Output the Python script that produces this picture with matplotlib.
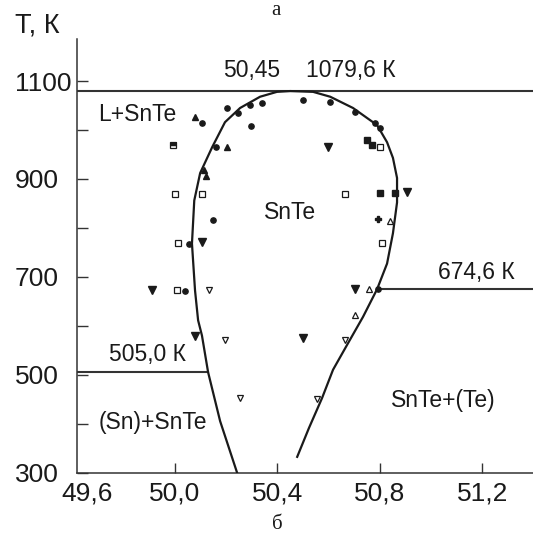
import matplotlib
matplotlib.use("Agg")
import matplotlib.pyplot as plt
from matplotlib.ticker import FixedLocator

plt.rcParams['font.family'] = ['Liberation Sans', 'DejaVu Sans']

INK = '#1a1a1a'

# SnTe homogeneity region boundary (at.% Te, K), left branch -> top -> right branch
boundary_x = [50.242, 50.176, 50.129, 50.105, 50.090, 50.078, 50.066, 50.075,
              50.098, 50.145, 50.195, 50.254, 50.332, 50.398, 50.45, 50.539,
              50.606, 50.695, 50.789, 50.828, 50.851, 50.867, 50.867, 50.851,
              50.828, 50.789, 50.734, 50.672, 50.617, 50.574, 50.523, 50.477]
boundary_T = [300, 405, 505, 580, 611, 672, 768, 856,
              912, 965, 1016, 1045, 1068, 1078, 1079.6, 1078,
              1068, 1045, 1010, 975, 943, 902, 852, 789,
              727, 674.6, 618, 561, 510, 452, 391, 332]

# invariant temperatures, K
t_max = 1079.6
x_max = 50.45
t_sn = 505.0
x_sn = 50.129
t_te = 674.6
x_te = 50.789

# experimental points
fc_x = [50.106, 50.203, 50.246, 50.293, 50.340, 50.298, 50.160, 50.500,
        50.606, 50.703, 50.782, 50.801, 50.148, 50.055, 50.039, 50.793]
fc_T = [1014, 1045, 1035, 1051, 1055, 1008, 965, 1062,
        1057, 1037, 1014, 1004, 816, 768, 670, 676]
fs_x = [50.751, 50.770, 50.801, 50.860]
fs_T = [980, 969, 871, 871]
fup_x = [50.079, 50.203, 50.114, 50.122]
fup_T = [1027, 965, 918, 905]
fdn_x = [50.598, 50.906, 50.106, 49.911, 50.079, 50.703, 50.500]
fdn_T = [965, 873, 772, 672, 580, 676, 574]
os_x = [50.0, 50.106, 50.801, 50.665, 50.012, 50.008, 50.809]
os_T = [870, 870, 965, 870, 770, 674, 770]
hs_x = [49.992]
hs_T = [969]
odn_x = [50.134, 50.196, 50.254, 50.555, 50.665]
odn_T = [672, 570, 453, 451, 570]
oup_x = [50.756, 50.840, 50.703]
oup_T = [676, 815, 621]
pl_x = [50.793]
pl_T = [819]

x_ticks = [50.0, 50.4, 50.8, 51.2]
x_labels = ['50,0', '50,4', '50,8', '51,2']
y_ticks = [300, 500, 700, 900, 1100]
y_minor = [400, 600, 800, 1000]

fig = plt.figure(figsize=(5.33, 5.35), dpi=100)
ax = fig.add_axes([77 / 533, 62.5 / 535, 456 / 533, 433.5 / 535])
ax.set_xlim(49.617, 51.398)
ax.set_ylim(300, 1186)

ax.plot(boundary_x, boundary_T, color=INK, lw=1.6, zorder=3)
ax.plot([49.617, 51.398], [t_max, t_max], color='#333333', lw=1.5, zorder=2)
ax.plot([49.617, x_sn], [t_sn, t_sn], color='#333333', lw=1.5, zorder=2)
ax.plot([x_te, 51.398], [t_te, t_te], color='#333333', lw=1.5, zorder=2)

kw = dict(ls='none', color=INK, zorder=4, clip_on=False)
ax.plot(fc_x, fc_T, marker='o', ms=3.8, **kw)
ax.plot(fs_x, fs_T, marker='s', ms=3.8, **kw)
ax.plot(fup_x, fup_T, marker='^', ms=5.0, **kw)
ax.plot(fdn_x, fdn_T, marker='v', ms=5.2, **kw)
ax.plot(os_x, os_T, marker='s', ms=3.8, mfc='white', mew=0.9, **kw)
ax.plot(hs_x, hs_T, marker='s', ms=4.0, fillstyle='top', mew=0.9, **kw)
ax.plot(odn_x, odn_T, marker='v', ms=5.0, mfc='white', mew=0.9, **kw)
ax.plot(oup_x, oup_T, marker='^', ms=5.0, mfc='white', mew=0.9, **kw)
ax.plot(pl_x, pl_T, marker='P', ms=4.5, **kw)

for s in ['top', 'right']:
    ax.spines[s].set_visible(False)
for s in ['left', 'bottom']:
    ax.spines[s].set_linewidth(1.1)
    ax.spines[s].set_color('#333333')

ax.xaxis.set_major_locator(FixedLocator(x_ticks))
ax.set_xticklabels(x_labels)
ax.yaxis.set_major_locator(FixedLocator(y_ticks))
ax.yaxis.set_minor_locator(FixedLocator(y_minor))
ax.set_yticklabels([str(t) for t in y_ticks])
ax.tick_params(axis='x', direction='in', length=7, width=1, color='#333333',
               labelsize=19, pad=6.8, labelcolor=INK)
ax.tick_params(axis='y', which='both', direction='in', length=8, width=1,
               color='#333333', labelsize=19, pad=44.6, labelcolor=INK)
for lab in ax.get_yticklabels():
    lab.set_horizontalalignment('left')

ax.annotate('49,6', xy=(49.6, 300), xytext=(10.7, -6.8), textcoords='offset points',
            ha='center', va='top', fontsize=19, color=INK, annotation_clip=False)

tk = dict(fontsize=16.5, color=INK, va='center')
ax.text(50.301, 1122, '50,45', ha='center', **tk)
ax.text(50.688, 1122, '1079,6 К', ha='center', **tk)
ax.text(49.699, 1031, 'L+SnTe', ha='left', **tk)
ax.text(50.449, 832, 'SnTe', ha='center', **tk)
ax.text(51.176, 708, '674,6 К', ha='center', **tk)
ax.text(49.891, 542, '505,0 К', ha='center', **tk)
ax.text(49.914, 403, '(Sn)+SnTe', ha='center', **tk)
ax.text(51.047, 448, 'SnTe+(Te)', ha='center', **tk)

fig.text(15 / 533, 1 - 25 / 535, 'T, К', fontsize=19.5, color=INK, ha='left', va='center')
fig.text(276 / 533, 0.999, 'а', fontsize=15, color=INK, ha='center', va='top',
         family='Liberation Serif')
fig.text(277 / 533, 0.001, 'б', fontsize=15, color=INK, ha='center', va='bottom',
         family='Liberation Serif')

fig.savefig('out.png', dpi=100)
